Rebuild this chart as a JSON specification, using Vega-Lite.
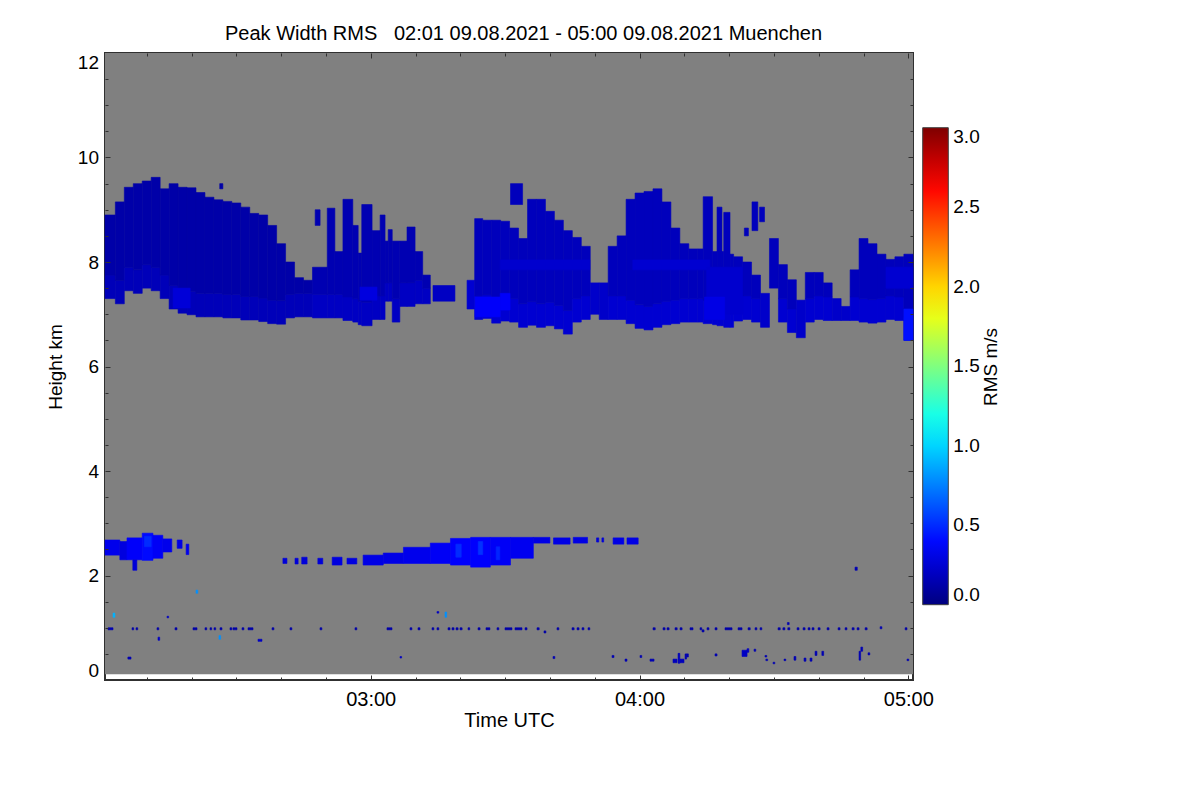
{
  "$schema": "https://vega.github.io/schema/vega-lite/v6.json",
  "width": 808,
  "height": 627,
  "autosize": {"type": "none"},
  "padding": {"left": 105, "top": 53, "right": 287, "bottom": 120},
  "background": "white",
  "title": {
    "text": "Peak Width RMS\u00a0\u00a0\u00a002:01 09.08.2021 - 05:00 09.08.2021 Muenchen",
    "anchor": "start", "frame": "group", "dx": 120, "offset": -7.5, "baseline": "alphabetic",
    "font": "Liberation Sans", "fontSize": 20, "fontWeight": "normal", "color": "black"
  },
  "datasets": {
    "frame": [{"t0": 120.69, "t1": 301.04, "h0": 0.11, "h1": 12}],
    "radar": [
      {"t0":120.69,"t1":123,"h0":7.3,"h1":7.75,"rms":0.17},{"t0":120.69,"t1":123,"h0":7.75,"h1":8.9,"rms":0.12},
      {"t0":123,"t1":125,"h0":7.2,"h1":7.65,"rms":0.17},{"t0":123,"t1":125,"h0":7.65,"h1":9.15,"rms":0.12},
      {"t0":125,"t1":127,"h0":7.45,"h1":7.9,"rms":0.17},{"t0":125,"t1":127,"h0":7.9,"h1":9.43,"rms":0.12},
      {"t0":127,"t1":129,"h0":7.4,"h1":7.85,"rms":0.17},{"t0":127,"t1":129,"h0":7.85,"h1":9.5,"rms":0.12},
      {"t0":129,"t1":131,"h0":7.5,"h1":7.95,"rms":0.17},{"t0":129,"t1":131,"h0":7.95,"h1":9.55,"rms":0.12},
      {"t0":131,"t1":133,"h0":7.45,"h1":7.9,"rms":0.17},{"t0":131,"t1":133,"h0":7.9,"h1":9.62,"rms":0.12},
      {"t0":133,"t1":135,"h0":7.3,"h1":7.75,"rms":0.17},{"t0":133,"t1":135,"h0":7.75,"h1":9.4,"rms":0.12},
      {"t0":135,"t1":137,"h0":7.1,"h1":7.55,"rms":0.17},{"t0":135,"t1":137,"h0":7.55,"h1":9.5,"rms":0.12},
      {"t0":137,"t1":139,"h0":7.02,"h1":7.47,"rms":0.17},{"t0":137,"t1":139,"h0":7.47,"h1":9.43,"rms":0.12},
      {"t0":139,"t1":141,"h0":6.99,"h1":7.44,"rms":0.17},{"t0":139,"t1":141,"h0":7.44,"h1":9.42,"rms":0.12},
      {"t0":141,"t1":143,"h0":6.95,"h1":7.4,"rms":0.17},{"t0":141,"t1":143,"h0":7.4,"h1":9.33,"rms":0.12},
      {"t0":143,"t1":145,"h0":6.95,"h1":7.4,"rms":0.17},{"t0":143,"t1":145,"h0":7.4,"h1":9.24,"rms":0.12},
      {"t0":145,"t1":147,"h0":6.95,"h1":7.4,"rms":0.17},{"t0":145,"t1":147,"h0":7.4,"h1":9.19,"rms":0.12},
      {"t0":147,"t1":149,"h0":6.93,"h1":7.38,"rms":0.17},{"t0":147,"t1":149,"h0":7.38,"h1":9.16,"rms":0.12},
      {"t0":149,"t1":151,"h0":6.93,"h1":7.38,"rms":0.17},{"t0":149,"t1":151,"h0":7.38,"h1":9.13,"rms":0.12},
      {"t0":151,"t1":153,"h0":6.89,"h1":7.34,"rms":0.17},{"t0":151,"t1":153,"h0":7.34,"h1":9.05,"rms":0.12},
      {"t0":153,"t1":155,"h0":6.89,"h1":7.34,"rms":0.17},{"t0":153,"t1":155,"h0":7.34,"h1":8.93,"rms":0.12},
      {"t0":155,"t1":157,"h0":6.86,"h1":7.31,"rms":0.17},{"t0":155,"t1":157,"h0":7.31,"h1":8.9,"rms":0.12},
      {"t0":157,"t1":159,"h0":6.82,"h1":7.27,"rms":0.17},{"t0":157,"t1":159,"h0":7.27,"h1":8.7,"rms":0.12},
      {"t0":159,"t1":161,"h0":6.81,"h1":7.26,"rms":0.17},{"t0":159,"t1":161,"h0":7.26,"h1":8.35,"rms":0.12},
      {"t0":161,"t1":163,"h0":6.93,"h1":7.38,"rms":0.17},{"t0":161,"t1":163,"h0":7.38,"h1":8.0,"rms":0.12},
      {"t0":163,"t1":165,"h0":6.95,"h1":7.4,"rms":0.17},{"t0":163,"t1":165,"h0":7.4,"h1":7.7,"rms":0.12},
      {"t0":165,"t1":167,"h0":6.95,"h1":7.4,"rms":0.17},{"t0":165,"t1":167,"h0":7.4,"h1":7.65,"rms":0.12},
      {"t0":146.3,"t1":147,"h0":9.4,"h1":9.5,"rms":0.12},

      {"t0":167,"t1":170.3,"h0":6.93,"h1":7.38,"rms":0.2},{"t0":167,"t1":170.3,"h0":7.38,"h1":7.9,"rms":0.15},
      {"t0":167.6,"t1":168.7,"h0":8.7,"h1":9.0,"rms":0.15},
      {"t0":170.3,"t1":172,"h0":6.93,"h1":7.38,"rms":0.2},{"t0":170.3,"t1":172,"h0":7.38,"h1":9.03,"rms":0.15},
      {"t0":172,"t1":173.8,"h0":6.93,"h1":7.38,"rms":0.2},{"t0":172,"t1":173.8,"h0":7.38,"h1":8.2,"rms":0.15},
      {"t0":173.8,"t1":176,"h0":6.88,"h1":7.33,"rms":0.2},{"t0":173.8,"t1":176,"h0":7.33,"h1":9.2,"rms":0.15},
      {"t0":176,"t1":177.2,"h0":6.85,"h1":7.3,"rms":0.2},{"t0":176,"t1":177.2,"h0":7.3,"h1":8.7,"rms":0.15},
      {"t0":177.2,"t1":178,"h0":6.8,"h1":7.25,"rms":0.2},{"t0":177.2,"t1":178,"h0":7.25,"h1":8.17,"rms":0.15},
      {"t0":178,"t1":180.3,"h0":6.78,"h1":7.23,"rms":0.2},{"t0":178,"t1":180.3,"h0":7.23,"h1":9.1,"rms":0.15},
      {"t0":180.3,"t1":182.1,"h0":6.9,"h1":7.35,"rms":0.2},{"t0":180.3,"t1":182.1,"h0":7.35,"h1":8.6,"rms":0.15},
      {"t0":182.1,"t1":183.2,"h0":6.9,"h1":7.35,"rms":0.2},{"t0":182.1,"t1":183.2,"h0":7.35,"h1":8.9,"rms":0.15},
      {"t0":183.2,"t1":183.9,"h0":7.25,"h1":7.6,"rms":0.2},{"t0":183.2,"t1":183.9,"h0":7.6,"h1":8.4,"rms":0.15},
      {"t0":183.9,"t1":184.8,"h0":7.25,"h1":7.6,"rms":0.2},{"t0":183.9,"t1":184.8,"h0":7.6,"h1":8.62,"rms":0.15},
      {"t0":184.8,"t1":186.5,"h0":6.85,"h1":7.3,"rms":0.2},{"t0":184.8,"t1":186.5,"h0":7.3,"h1":8.4,"rms":0.15},
      {"t0":186.5,"t1":188.1,"h0":7.15,"h1":7.6,"rms":0.2},{"t0":186.5,"t1":188.1,"h0":7.6,"h1":8.4,"rms":0.15},
      {"t0":188.1,"t1":189.9,"h0":7.15,"h1":7.6,"rms":0.2},{"t0":188.1,"t1":189.9,"h0":7.6,"h1":8.67,"rms":0.15},
      {"t0":189.9,"t1":191.6,"h0":7.2,"h1":7.65,"rms":0.2},{"t0":189.9,"t1":191.6,"h0":7.65,"h1":8.2,"rms":0.15},
      {"t0":191.6,"t1":193.3,"h0":7.2,"h1":7.5,"rms":0.2},{"t0":191.6,"t1":193.3,"h0":7.5,"h1":7.75,"rms":0.15},
      {"t0":193.9,"t1":198.8,"h0":7.25,"h1":7.55,"rms":0.2},

      {"t0":201.5,"t1":203.2,"h0":7.1,"h1":7.65,"rms":0.24},
      {"t0":203.2,"t1":205,"h0":6.9,"h1":7.35,"rms":0.24},{"t0":203.2,"t1":205,"h0":7.35,"h1":8.83,"rms":0.18},
      {"t0":205,"t1":207,"h0":6.92,"h1":7.37,"rms":0.24},{"t0":205,"t1":207,"h0":7.37,"h1":8.8,"rms":0.18},
      {"t0":207,"t1":209,"h0":6.83,"h1":7.28,"rms":0.24},{"t0":207,"t1":209,"h0":7.28,"h1":8.8,"rms":0.18},
      {"t0":209,"t1":211,"h0":6.87,"h1":7.32,"rms":0.24},{"t0":209,"t1":211,"h0":7.32,"h1":8.78,"rms":0.18},
      {"t0":211,"t1":213,"h0":6.85,"h1":7.3,"rms":0.24},{"t0":211,"t1":213,"h0":7.3,"h1":8.65,"rms":0.18},
      {"t0":211.2,"t1":213.9,"h0":9.1,"h1":9.5,"rms":0.18},
      {"t0":213,"t1":215,"h0":6.75,"h1":7.2,"rms":0.24},{"t0":213,"t1":215,"h0":7.2,"h1":8.45,"rms":0.18},
      {"t0":215,"t1":217,"h0":6.79,"h1":7.24,"rms":0.24},{"t0":215,"t1":217,"h0":7.24,"h1":9.2,"rms":0.18},
      {"t0":217,"t1":219,"h0":6.75,"h1":7.2,"rms":0.24},{"t0":217,"t1":219,"h0":7.2,"h1":9.2,"rms":0.18},
      {"t0":219,"t1":221,"h0":6.78,"h1":7.23,"rms":0.24},{"t0":219,"t1":221,"h0":7.23,"h1":8.97,"rms":0.18},
      {"t0":221,"t1":223,"h0":6.72,"h1":7.17,"rms":0.24},{"t0":221,"t1":223,"h0":7.17,"h1":8.8,"rms":0.18},
      {"t0":223,"t1":225,"h0":6.62,"h1":7.07,"rms":0.24},{"t0":223,"t1":225,"h0":7.07,"h1":8.6,"rms":0.18},
      {"t0":225,"t1":227,"h0":6.85,"h1":7.3,"rms":0.24},{"t0":225,"t1":227,"h0":7.3,"h1":8.47,"rms":0.18},
      {"t0":227,"t1":229,"h0":6.9,"h1":7.35,"rms":0.24},{"t0":227,"t1":229,"h0":7.35,"h1":8.3,"rms":0.18},
      {"t0":229,"t1":231,"h0":7.0,"h1":7.6,"rms":0.22},
      {"t0":231,"t1":233,"h0":6.9,"h1":7.6,"rms":0.22},
      {"t0":233,"t1":235,"h0":6.9,"h1":7.35,"rms":0.24},{"t0":233,"t1":235,"h0":7.35,"h1":8.3,"rms":0.18},
      {"t0":235,"t1":237,"h0":6.9,"h1":7.35,"rms":0.24},{"t0":235,"t1":237,"h0":7.35,"h1":8.5,"rms":0.18},

      {"t0":237,"t1":239,"h0":6.82,"h1":7.27,"rms":0.24},{"t0":237,"t1":239,"h0":7.27,"h1":9.2,"rms":0.18},
      {"t0":239,"t1":241,"h0":6.73,"h1":7.18,"rms":0.24},{"t0":239,"t1":241,"h0":7.18,"h1":9.32,"rms":0.18},
      {"t0":241,"t1":243,"h0":6.7,"h1":7.15,"rms":0.24},{"t0":241,"t1":243,"h0":7.15,"h1":9.35,"rms":0.18},
      {"t0":243,"t1":245,"h0":6.75,"h1":7.2,"rms":0.24},{"t0":243,"t1":245,"h0":7.2,"h1":9.4,"rms":0.18},
      {"t0":245,"t1":247,"h0":6.8,"h1":7.25,"rms":0.24},{"t0":245,"t1":247,"h0":7.25,"h1":9.15,"rms":0.18},
      {"t0":247,"t1":249,"h0":6.82,"h1":7.27,"rms":0.24},{"t0":247,"t1":249,"h0":7.27,"h1":8.65,"rms":0.18},
      {"t0":249,"t1":251,"h0":6.85,"h1":7.3,"rms":0.24},{"t0":249,"t1":251,"h0":7.3,"h1":8.35,"rms":0.18},
      {"t0":251,"t1":253,"h0":6.85,"h1":7.3,"rms":0.24},{"t0":251,"t1":253,"h0":7.3,"h1":8.25,"rms":0.18},
      {"t0":253,"t1":254.2,"h0":6.85,"h1":7.3,"rms":0.24},{"t0":253,"t1":254.2,"h0":7.3,"h1":8.25,"rms":0.18},
      {"t0":254.2,"t1":256.3,"h0":6.82,"h1":7.27,"rms":0.24},{"t0":254.2,"t1":256.3,"h0":7.27,"h1":9.25,"rms":0.18},
      {"t0":256.3,"t1":257.3,"h0":6.8,"h1":7.25,"rms":0.24},{"t0":256.3,"t1":257.3,"h0":7.25,"h1":8.2,"rms":0.18},
      {"t0":257.3,"t1":258.4,"h0":6.78,"h1":7.23,"rms":0.24},{"t0":257.3,"t1":258.4,"h0":7.23,"h1":9.05,"rms":0.18},
      {"t0":258.4,"t1":258.8,"h0":6.78,"h1":7.23,"rms":0.24},{"t0":258.4,"t1":258.8,"h0":7.23,"h1":8.2,"rms":0.18},
      {"t0":258.8,"t1":260.2,"h0":6.75,"h1":7.2,"rms":0.24},{"t0":258.8,"t1":260.2,"h0":7.2,"h1":8.95,"rms":0.18},
      {"t0":260.2,"t1":261,"h0":6.75,"h1":7.2,"rms":0.24},{"t0":260.2,"t1":261,"h0":7.2,"h1":8.15,"rms":0.18},
      {"t0":261,"t1":263,"h0":6.87,"h1":7.32,"rms":0.24},{"t0":261,"t1":263,"h0":7.32,"h1":8.1,"rms":0.18},
      {"t0":263,"t1":265,"h0":6.9,"h1":7.35,"rms":0.24},{"t0":263,"t1":265,"h0":7.35,"h1":8.0,"rms":0.18},
      {"t0":263.4,"t1":264.3,"h0":8.5,"h1":8.65,"rms":0.18},
      {"t0":265.1,"t1":266.4,"h0":8.6,"h1":9.15,"rms":0.18},
      {"t0":265,"t1":267,"h0":6.85,"h1":7.3,"rms":0.24},{"t0":265,"t1":267,"h0":7.3,"h1":7.75,"rms":0.18},
      {"t0":266.8,"t1":267.9,"h0":8.77,"h1":9.05,"rms":0.18},
      {"t0":267,"t1":269,"h0":6.75,"h1":7.4,"rms":0.22},
      {"t0":269,"t1":271,"h0":7.5,"h1":8.45,"rms":0.18},
      {"t0":271,"t1":273,"h0":6.85,"h1":7.3,"rms":0.24},{"t0":271,"t1":273,"h0":7.3,"h1":7.95,"rms":0.18},
      {"t0":273,"t1":275,"h0":6.65,"h1":7.1,"rms":0.24},{"t0":273,"t1":275,"h0":7.1,"h1":7.66,"rms":0.18},
      {"t0":275,"t1":277,"h0":6.55,"h1":7.27,"rms":0.22},
      {"t0":277,"t1":279,"h0":6.85,"h1":7.3,"rms":0.24},{"t0":277,"t1":279,"h0":7.3,"h1":7.8,"rms":0.18},
      {"t0":279,"t1":281,"h0":6.9,"h1":7.35,"rms":0.24},{"t0":279,"t1":281,"h0":7.35,"h1":7.8,"rms":0.18},
      {"t0":281,"t1":283,"h0":6.88,"h1":7.33,"rms":0.24},{"t0":281,"t1":283,"h0":7.33,"h1":7.6,"rms":0.18},
      {"t0":283,"t1":285,"h0":6.88,"h1":7.3,"rms":0.22},
      {"t0":285,"t1":287,"h0":6.88,"h1":7.15,"rms":0.22},
      {"t0":287,"t1":289,"h0":6.88,"h1":7.33,"rms":0.24},{"t0":287,"t1":289,"h0":7.33,"h1":7.85,"rms":0.18},
      {"t0":289,"t1":291,"h0":6.85,"h1":7.3,"rms":0.24},{"t0":289,"t1":291,"h0":7.3,"h1":8.45,"rms":0.18},
      {"t0":291,"t1":293,"h0":6.83,"h1":7.28,"rms":0.24},{"t0":291,"t1":293,"h0":7.28,"h1":8.35,"rms":0.18},
      {"t0":293,"t1":295,"h0":6.85,"h1":7.3,"rms":0.24},{"t0":293,"t1":295,"h0":7.3,"h1":8.15,"rms":0.18},
      {"t0":295,"t1":297,"h0":6.9,"h1":7.35,"rms":0.24},{"t0":295,"t1":297,"h0":7.35,"h1":8.05,"rms":0.18},
      {"t0":297,"t1":299,"h0":6.88,"h1":7.33,"rms":0.24},{"t0":297,"t1":299,"h0":7.33,"h1":8.1,"rms":0.18},
      {"t0":299,"t1":301.04,"h0":6.5,"h1":6.95,"rms":0.24},{"t0":299,"t1":301.04,"h0":6.95,"h1":8.15,"rms":0.18},

      {"t0":135.9,"t1":139.7,"h0":7.12,"h1":7.5,"rms":0.26},
      {"t0":177.6,"t1":181.4,"h0":7.27,"h1":7.52,"rms":0.28},
      {"t0":203.3,"t1":208.9,"h0":6.95,"h1":7.33,"rms":0.36},
      {"t0":208.9,"t1":228.9,"h0":7.85,"h1":8.04,"rms":0.23},
      {"t0":208.9,"t1":211.1,"h0":7.08,"h1":7.4,"rms":0.36},
      {"t0":238.5,"t1":255.7,"h0":7.85,"h1":8.04,"rms":0.24},
      {"t0":255,"t1":263,"h0":7.0,"h1":7.9,"rms":0.23},
      {"t0":254.5,"t1":259,"h0":6.9,"h1":7.33,"rms":0.3},
      {"t0":299,"t1":301.04,"h0":6.5,"h1":7.1,"rms":0.42},
      {"t0":295,"t1":301.04,"h0":7.5,"h1":7.9,"rms":0.24},

      {"t0":120.69,"t1":124.0,"h0":2.39,"h1":2.68,"rms":0.32},
      {"t0":124.0,"t1":125.6,"h0":2.3,"h1":2.65,"rms":0.28},
      {"t0":125.6,"t1":129.0,"h0":2.3,"h1":2.72,"rms":0.36},
      {"t0":129.0,"t1":131.4,"h0":2.29,"h1":2.81,"rms":0.4},
      {"t0":131.4,"t1":133.6,"h0":2.33,"h1":2.77,"rms":0.35},
      {"t0":133.6,"t1":135.6,"h0":2.45,"h1":2.7,"rms":0.32},
      {"t0":126.9,"t1":127.8,"h0":2.1,"h1":2.3,"rms":0.26},
      {"t0":136.8,"t1":137.9,"h0":2.52,"h1":2.68,"rms":0.3},
      {"t0":138.8,"t1":139.4,"h0":2.4,"h1":2.6,"rms":0.32},
      {"t0":129.5,"t1":131.0,"h0":2.55,"h1":2.75,"rms":0.5},
      {"t0":160.4,"t1":161.3,"h0":2.23,"h1":2.33,"rms":0.26},
      {"t0":163.1,"t1":163.8,"h0":2.22,"h1":2.33,"rms":0.26},
      {"t0":164.6,"t1":165.8,"h0":2.22,"h1":2.35,"rms":0.26},
      {"t0":168.2,"t1":169.3,"h0":2.22,"h1":2.33,"rms":0.26},
      {"t0":171.4,"t1":173.6,"h0":2.2,"h1":2.35,"rms":0.28},
      {"t0":174.7,"t1":176.9,"h0":2.22,"h1":2.33,"rms":0.28},
      {"t0":178.3,"t1":182.8,"h0":2.2,"h1":2.39,"rms":0.3},
      {"t0":182.8,"t1":187.3,"h0":2.23,"h1":2.43,"rms":0.3},
      {"t0":187.3,"t1":193.3,"h0":2.23,"h1":2.54,"rms":0.32},
      {"t0":193.3,"t1":197.8,"h0":2.23,"h1":2.62,"rms":0.35},
      {"t0":197.8,"t1":202.3,"h0":2.2,"h1":2.71,"rms":0.37},
      {"t0":202.3,"t1":206.7,"h0":2.16,"h1":2.73,"rms":0.37},
      {"t0":206.7,"t1":211.2,"h0":2.2,"h1":2.73,"rms":0.35},
      {"t0":211.2,"t1":216.3,"h0":2.33,"h1":2.73,"rms":0.33},
      {"t0":199.0,"t1":200.2,"h0":2.35,"h1":2.6,"rms":0.5},
      {"t0":204.0,"t1":205.0,"h0":2.4,"h1":2.65,"rms":0.52},
      {"t0":208.0,"t1":208.8,"h0":2.3,"h1":2.55,"rms":0.48},
      {"t0":216.3,"t1":220.0,"h0":2.62,"h1":2.73,"rms":0.3},
      {"t0":220.8,"t1":224.5,"h0":2.6,"h1":2.72,"rms":0.3},
      {"t0":225.2,"t1":228.4,"h0":2.62,"h1":2.73,"rms":0.3},
      {"t0":230.4,"t1":230.9,"h0":2.64,"h1":2.72,"rms":0.26},
      {"t0":231.6,"t1":232.0,"h0":2.64,"h1":2.72,"rms":0.26},
      {"t0":234.1,"t1":236.5,"h0":2.6,"h1":2.72,"rms":0.3},
      {"t0":237.2,"t1":239.7,"h0":2.6,"h1":2.72,"rms":0.3},

      {"t0":121.36,"t1":122.48,"h0":0.96,"h1":1.0,"rms":0.15},
      {"t0":126.72,"t1":127.1,"h0":0.96,"h1":1.0,"rms":0.12},
      {"t0":127.61,"t1":128.0,"h0":0.96,"h1":1.0,"rms":0.12},
      {"t0":132.3,"t1":132.7,"h0":0.96,"h1":1.0,"rms":0.12},
      {"t0":136.31,"t1":136.76,"h0":0.96,"h1":1.0,"rms":0.12},
      {"t0":140.33,"t1":141.23,"h0":0.96,"h1":1.0,"rms":0.12},
      {"t0":143.01,"t1":143.4,"h0":0.96,"h1":1.0,"rms":0.12},
      {"t0":144.13,"t1":144.5,"h0":0.96,"h1":1.0,"rms":0.12},
      {"t0":145.02,"t1":145.4,"h0":0.96,"h1":1.0,"rms":0.12},
      {"t0":146.36,"t1":146.8,"h0":0.96,"h1":1.0,"rms":0.12},
      {"t0":148.59,"t1":149.0,"h0":0.96,"h1":1.0,"rms":0.12},
      {"t0":149.26,"t1":150.15,"h0":0.96,"h1":1.0,"rms":0.12},
      {"t0":151.27,"t1":151.7,"h0":0.96,"h1":1.0,"rms":0.12},
      {"t0":152.61,"t1":153.73,"h0":0.96,"h1":1.0,"rms":0.12},
      {"t0":157.97,"t1":158.4,"h0":0.96,"h1":1.0,"rms":0.12},
      {"t0":161.98,"t1":162.4,"h0":0.96,"h1":1.0,"rms":0.12},
      {"t0":168.68,"t1":169.1,"h0":0.96,"h1":1.0,"rms":0.12},
      {"t0":176.49,"t1":176.9,"h0":0.96,"h1":1.0,"rms":0.12},
      {"t0":183.63,"t1":184.75,"h0":0.96,"h1":1.0,"rms":0.12},
      {"t0":188.77,"t1":189.2,"h0":0.96,"h1":1.0,"rms":0.12},
      {"t0":190.55,"t1":191.0,"h0":0.96,"h1":1.0,"rms":0.12},
      {"t0":193.68,"t1":194.1,"h0":0.96,"h1":1.0,"rms":0.12},
      {"t0":194.79,"t1":195.2,"h0":0.96,"h1":1.0,"rms":0.12},
      {"t0":197.25,"t1":197.7,"h0":0.96,"h1":1.0,"rms":0.12},
      {"t0":198.14,"t1":198.6,"h0":0.96,"h1":1.0,"rms":0.12},
      {"t0":199.04,"t1":199.5,"h0":0.96,"h1":1.0,"rms":0.12},
      {"t0":199.93,"t1":200.4,"h0":0.96,"h1":1.0,"rms":0.12},
      {"t0":201.72,"t1":202.1,"h0":0.96,"h1":1.0,"rms":0.12},
      {"t0":203.95,"t1":204.4,"h0":0.96,"h1":1.0,"rms":0.12},
      {"t0":205.73,"t1":206.6,"h0":0.96,"h1":1.0,"rms":0.12},
      {"t0":208.19,"t1":208.6,"h0":0.96,"h1":1.0,"rms":0.12},
      {"t0":209.97,"t1":211.53,"h0":0.96,"h1":1.0,"rms":0.12},
      {"t0":212.2,"t1":213.77,"h0":0.96,"h1":1.0,"rms":0.12},
      {"t0":214.44,"t1":214.89,"h0":0.96,"h1":1.0,"rms":0.12},
      {"t0":217.12,"t1":217.6,"h0":0.96,"h1":1.0,"rms":0.12},
      {"t0":218.68,"t1":219.1,"h0":0.9,"h1":0.94,"rms":0.12},
      {"t0":221.58,"t1":222.0,"h0":0.96,"h1":1.0,"rms":0.12},
      {"t0":224.93,"t1":225.4,"h0":0.96,"h1":1.0,"rms":0.12},
      {"t0":226.05,"t1":226.5,"h0":0.96,"h1":1.0,"rms":0.12},
      {"t0":227.16,"t1":227.6,"h0":0.96,"h1":1.0,"rms":0.12},
      {"t0":228.5,"t1":228.9,"h0":0.96,"h1":1.0,"rms":0.12},
      {"t0":243.01,"t1":243.5,"h0":0.96,"h1":1.0,"rms":0.12},
      {"t0":245.24,"t1":245.7,"h0":0.96,"h1":1.0,"rms":0.12},
      {"t0":246.14,"t1":246.6,"h0":0.96,"h1":1.0,"rms":0.12},
      {"t0":247.92,"t1":248.4,"h0":0.96,"h1":1.0,"rms":0.12},
      {"t0":249.04,"t1":249.5,"h0":0.96,"h1":1.0,"rms":0.12},
      {"t0":251.27,"t1":251.94,"h0":0.96,"h1":1.0,"rms":0.12},
      {"t0":253.5,"t1":253.9,"h0":0.96,"h1":1.0,"rms":0.12},
      {"t0":253.95,"t1":254.4,"h0":0.92,"h1":0.96,"rms":0.12},
      {"t0":255.06,"t1":255.5,"h0":0.96,"h1":1.0,"rms":0.12},
      {"t0":256.85,"t1":257.3,"h0":0.96,"h1":1.0,"rms":0.12},
      {"t0":259.08,"t1":260.65,"h0":0.96,"h1":1.0,"rms":0.12},
      {"t0":261.99,"t1":262.88,"h0":0.96,"h1":1.0,"rms":0.12},
      {"t0":264.22,"t1":264.7,"h0":0.96,"h1":1.0,"rms":0.12},
      {"t0":265.78,"t1":266.2,"h0":0.96,"h1":1.0,"rms":0.12},
      {"t0":266.9,"t1":267.3,"h0":0.96,"h1":1.0,"rms":0.12},
      {"t0":270.92,"t1":271.4,"h0":0.96,"h1":1.0,"rms":0.12},
      {"t0":272.0,"t1":272.45,"h0":0.96,"h1":1.0,"rms":0.12},
      {"t0":273.1,"t1":273.55,"h0":0.96,"h1":1.0,"rms":0.12},
      {"t0":275.16,"t1":275.6,"h0":0.96,"h1":1.0,"rms":0.12},
      {"t0":276.5,"t1":276.95,"h0":0.96,"h1":1.0,"rms":0.12},
      {"t0":277.62,"t1":278.05,"h0":0.96,"h1":1.0,"rms":0.12},
      {"t0":278.51,"t1":278.95,"h0":0.96,"h1":1.0,"rms":0.12},
      {"t0":279.85,"t1":280.3,"h0":0.96,"h1":1.0,"rms":0.12},
      {"t0":281.86,"t1":282.3,"h0":0.96,"h1":1.0,"rms":0.12},
      {"t0":284.32,"t1":284.75,"h0":0.96,"h1":1.0,"rms":0.12},
      {"t0":285.88,"t1":286.3,"h0":0.96,"h1":1.0,"rms":0.12},
      {"t0":287.44,"t1":287.9,"h0":0.96,"h1":1.0,"rms":0.12},
      {"t0":288.56,"t1":289.0,"h0":0.96,"h1":1.0,"rms":0.12},
      {"t0":290.35,"t1":290.8,"h0":0.96,"h1":1.0,"rms":0.12},
      {"t0":293.7,"t1":294.1,"h0":0.98,"h1":1.02,"rms":0.15},
      {"t0":299.28,"t1":299.7,"h0":0.96,"h1":1.0,"rms":0.12},

      {"t0":122.48,"t1":122.9,"h0":1.2,"h1":1.28,"rms":0.9},
      {"t0":125.8,"t1":126.5,"h0":0.4,"h1":0.44,"rms":0.15},
      {"t0":132.52,"t1":132.9,"h0":0.76,"h1":0.82,"rms":0.2},
      {"t0":134.53,"t1":134.9,"h0":1.19,"h1":1.22,"rms":0.2},
      {"t0":141.0,"t1":141.4,"h0":1.66,"h1":1.72,"rms":0.8},
      {"t0":146.13,"t1":146.5,"h0":0.78,"h1":0.85,"rms":0.8},
      {"t0":154.84,"t1":155.73,"h0":0.74,"h1":0.78,"rms":0.2},
      {"t0":186.54,"t1":186.9,"h0":0.42,"h1":0.45,"rms":0.2},
      {"t0":194.79,"t1":195.2,"h0":1.28,"h1":1.31,"rms":0.2},
      {"t0":196.58,"t1":196.95,"h0":1.2,"h1":1.3,"rms":0.8},
      {"t0":220.69,"t1":221.1,"h0":0.41,"h1":0.45,"rms":0.15},
      {"t0":233.86,"t1":234.3,"h0":0.43,"h1":0.47,"rms":0.15},
      {"t0":236.76,"t1":237.2,"h0":0.36,"h1":0.4,"rms":0.15},
      {"t0":240.11,"t1":240.5,"h0":0.43,"h1":0.47,"rms":0.15},
      {"t0":242.34,"t1":243.24,"h0":0.36,"h1":0.4,"rms":0.15},
      {"t0":247.47,"t1":248.36,"h0":0.33,"h1":0.4,"rms":0.18},
      {"t0":249.04,"t1":249.93,"h0":0.33,"h1":0.4,"rms":0.18},
      {"t0":248.6,"t1":249.0,"h0":0.32,"h1":0.51,"rms":0.18},
      {"t0":250.16,"t1":250.5,"h0":0.4,"h1":0.5,"rms":0.15},
      {"t0":250.5,"t1":250.9,"h0":0.44,"h1":0.5,"rms":0.15},
      {"t0":256.85,"t1":257.3,"h0":0.46,"h1":0.5,"rms":0.15},
      {"t0":262.88,"t1":264.0,"h0":0.45,"h1":0.57,"rms":0.2},
      {"t0":264.0,"t1":264.4,"h0":0.53,"h1":0.6,"rms":0.2},
      {"t0":265.56,"t1":265.95,"h0":0.55,"h1":0.59,"rms":0.15},
      {"t0":268.0,"t1":268.4,"h0":0.44,"h1":0.47,"rms":0.15},
      {"t0":268.2,"t1":268.6,"h0":0.37,"h1":0.4,"rms":0.15},
      {"t0":269.8,"t1":270.2,"h0":0.31,"h1":0.34,"rms":0.15},
      {"t0":272.25,"t1":272.65,"h0":0.37,"h1":0.4,"rms":0.15},
      {"t0":274.48,"t1":274.9,"h0":0.38,"h1":0.45,"rms":0.15},
      {"t0":276.72,"t1":277.15,"h0":0.36,"h1":0.42,"rms":0.15},
      {"t0":278.06,"t1":278.5,"h0":0.36,"h1":0.42,"rms":0.15},
      {"t0":279.18,"t1":279.6,"h0":0.47,"h1":0.55,"rms":0.15},
      {"t0":280.7,"t1":281.1,"h0":0.47,"h1":0.55,"rms":0.15},
      {"t0":289.0,"t1":289.35,"h0":0.38,"h1":0.55,"rms":0.15},
      {"t0":289.4,"t1":289.8,"h0":0.55,"h1":0.63,"rms":0.15},
      {"t0":291.0,"t1":291.4,"h0":0.48,"h1":0.52,"rms":0.15},
      {"t0":299.7,"t1":300.1,"h0":0.37,"h1":0.4,"rms":0.15},
      {"t0":288.1,"t1":288.6,"h0":2.1,"h1":2.16,"rms":0.15},
      {"t0":273.0,"t1":273.4,"h0":1.06,"h1":1.1,"rms":0.15}
    ]
  },
  "layer": [
    {
      "data": {"name": "frame"},
      "mark": {"type": "rect", "fill": "#808080"},
      "encoding": {
        "x": {"field": "t0", "type": "quantitative",
              "scale": {"domain": [120.69, 301.04], "nice": false, "zero": false},
              "axis": {"orient": "bottom", "values": [130,140,150,160,170,190,200,210,220,230,250,260,270,280,290],
                       "labels": false, "domain": false, "tickSize": 3, "offset": -3, "title": null, "zindex": 1}},
        "x2": {"field": "t1"},
        "y": {"field": "h0", "type": "quantitative",
              "scale": {"domain": [0, 12], "nice": false, "zero": false},
              "axis": {"orient": "left", "values": [0.5,1,1.5,2.5,3,3.5,4.5,5,5.5,6.5,7,7.5,8.5,9,9.5,10.5,11,11.5],
                       "labels": false, "domain": false, "tickSize": 3, "offset": -3, "title": null, "zindex": 1}},
        "y2": {"field": "h1"}
      }
    },
    {
      "data": {"name": "radar"},
      "mark": {"type": "rect", "stroke": {"expr": "scale('color', datum.rms)"}, "strokeWidth": 0.6},
      "encoding": {
        "x": {"field": "t0", "type": "quantitative",
              "scale": {"domain": [120.69, 301.04], "nice": false, "zero": false},
              "axis": {"orient": "bottom", "values": [180, 240, 300], "ticks": false, "domain": false,
                       "labelExpr": "format(floor(datum.value / 60), '02d') + ':00'",
                       "labelBaseline": "alphabetic", "labelPadding": 25, "labelFontSize": 20,
                       "title": "Time UTC", "titleFontSize": 20, "titleBaseline": "alphabetic", "titleY": 46}},
        "x2": {"field": "t1"},
        "y": {"field": "h0", "type": "quantitative",
              "scale": {"domain": [0, 12], "nice": false, "zero": false},
              "axis": {"orient": "left", "values": [0, 2, 4, 6, 8, 10, 12], "ticks": false, "domain": false,
                       "format": "d", "labelPadding": 6.5, "labelFlush": true,
                       "title": "Height km", "titleBaseline": "top", "titleX": -59}},
        "y2": {"field": "h1"},
        "color": {"field": "rms", "type": "quantitative",
                  "scale": {"domain": [0, 0.375, 1.125, 1.875, 2.625, 3], "interpolate": "rgb",
                            "range": ["#00007f", "#0000ff", "#00ffff", "#ffff00", "#ff0000", "#7f0000"]},
                  "legend": {"type": "gradient", "orient": "none", "legendX": 817.7, "legendY": 74.7, "direction": "vertical",
                             "gradientLength": 477, "gradientThickness": 25.6,
                             "values": [0, 0.5, 1, 1.5, 2, 2.5, 3], "format": ".1f", "title": null,
                             "labelFont": "Liberation Sans", "labelFontSize": 19, "labelOffset": 5,
                             "labelColor": "black", "labelOverlap": false,
                             "gradientStrokeColor": "#404040", "gradientStrokeWidth": 1, "padding": 0}}
      }
    },
    {
      "data": {"name": "frame"},
      "mark": {"type": "rect", "opacity": 0},
      "encoding": {
        "x": {"field": "t0", "type": "quantitative",
              "scale": {"domain": [120.69, 301.04], "nice": false, "zero": false},
              "axis": {"orient": "top", "values": [130,140,150,160,170,190,200,210,220,230,250,260,270,280,290],
                       "labels": false, "domain": false, "tickSize": 3, "offset": -3, "title": null, "zindex": 1}},
        "x2": {"field": "t1"},
        "y": {"field": "h0", "type": "quantitative",
              "scale": {"domain": [0, 12], "nice": false, "zero": false},
              "axis": {"orient": "right", "values": [0.5,1,1.5,2.5,3,3.5,4.5,5,5.5,6.5,7,7.5,8.5,9,9.5,10.5,11,11.5],
                       "labels": false, "domain": false, "tickSize": 3, "offset": -3, "title": null, "zindex": 1}},
        "y2": {"field": "h1"}
      }
    },
    {
      "data": {"name": "frame"},
      "mark": {"type": "rect", "opacity": 0},
      "encoding": {
        "x": {"field": "t0", "type": "quantitative",
              "scale": {"domain": [120.69, 301.04], "nice": false, "zero": false},
              "axis": {"orient": "bottom", "values": [180, 240, 300],
                       "labels": false, "domain": false, "tickSize": 5, "offset": -5, "title": null, "zindex": 1}},
        "x2": {"field": "t1"},
        "y": {"field": "h0", "type": "quantitative",
              "scale": {"domain": [0, 12], "nice": false, "zero": false},
              "axis": {"orient": "left", "values": [2, 4, 6, 8, 10],
                       "labels": false, "domain": false, "tickSize": 5, "offset": -5, "title": null, "zindex": 1}},
        "y2": {"field": "h1"}
      }
    },
    {
      "data": {"name": "frame"},
      "mark": {"type": "rect", "opacity": 0},
      "encoding": {
        "x": {"field": "t0", "type": "quantitative",
              "scale": {"domain": [120.69, 301.04], "nice": false, "zero": false},
              "axis": {"orient": "top", "values": [180, 240, 300],
                       "labels": false, "domain": false, "tickSize": 5, "offset": -5, "title": null, "zindex": 1}},
        "x2": {"field": "t1"},
        "y": {"field": "h0", "type": "quantitative",
              "scale": {"domain": [0, 12], "nice": false, "zero": false},
              "axis": {"orient": "right", "values": [2, 4, 6, 8, 10],
                       "labels": false, "domain": false, "tickSize": 5, "offset": -5, "zindex": 1,
                       "title": "RMS m/s", "titleAngle": 270, "titleBaseline": "top", "titleX": 73}},
        "y2": {"field": "h1"}
      }
    }
  ],
  "resolve": {"axis": {"x": "independent", "y": "independent"}},
  "config": {
    "view": {"stroke": "#303030", "strokeWidth": 2},
    "axis": {"labelFont": "Liberation Sans", "labelFontSize": 19, "labelColor": "black",
             "titleFont": "Liberation Sans", "titleFontSize": 19, "titleFontWeight": "normal", "titleColor": "black",
             "tickColor": "#303030", "tickWidth": 1, "grid": false}
  }
}
